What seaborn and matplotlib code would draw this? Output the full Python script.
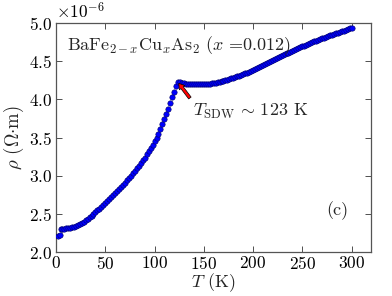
import numpy as np
import pandas as pd
import matplotlib
matplotlib.use("Agg")
import matplotlib.pyplot as plt
import seaborn as sns

# Temperature (K)
T_low = [2, 4]
rho_low = [2.22, 2.23]   # x1e-6 Ohm m

T_main = [5, 6, 8, 10, 12, 14, 16, 18, 20, 22, 24, 26, 28, 30, 32, 34, 36, 38, 40,
          42, 44, 46, 48, 50, 52, 54, 56, 58, 60, 62, 64, 66, 68, 70, 72, 74, 76, 78,
          80, 82, 84, 86, 88, 90, 92, 94, 96, 98, 100, 102, 104, 106, 108, 110, 112,
          114, 116, 118, 120, 122, 124, 126, 128, 130, 132, 134, 136, 138, 140, 142,
          144, 146, 148, 150, 152, 154, 156, 158, 160, 162, 164, 166, 168, 170, 172,
          174, 176, 178, 180, 182, 184, 186, 188, 190, 192, 194, 196, 198, 200, 202,
          204, 206, 208, 210, 212, 214, 216, 218, 220, 222, 224, 226, 228, 230, 232,
          234, 236, 238, 240, 242, 244, 246, 248, 250, 252, 254, 256, 258, 260, 262,
          264, 266, 268, 270, 272, 274, 276, 278, 280, 282, 284, 286, 288, 290, 292,
          294, 296, 298, 300]
rho_main = [2.308, 2.310, 2.313, 2.317, 2.321, 2.326, 2.332, 2.339, 2.347, 2.358, 2.371,
            2.386, 2.403, 2.421, 2.440, 2.460, 2.481, 2.503, 2.526, 2.549, 2.572, 2.597,
            2.621, 2.646, 2.671, 2.696, 2.721, 2.747, 2.773, 2.800, 2.828, 2.856, 2.885,
            2.914, 2.944, 2.974, 3.005, 3.036, 3.068, 3.100, 3.134, 3.170, 3.205, 3.240,
            3.280, 3.320, 3.365, 3.410, 3.455, 3.500, 3.550, 3.610, 3.675, 3.740, 3.810,
            3.880, 3.950, 4.030, 4.100, 4.170, 4.225, 4.225, 4.215, 4.210, 4.205, 4.200,
            4.198, 4.196, 4.195, 4.195, 4.195, 4.196, 4.197, 4.199, 4.201, 4.204, 4.207,
            4.211, 4.215, 4.220, 4.225, 4.231, 4.237, 4.244, 4.251, 4.258, 4.266, 4.274,
            4.282, 4.291, 4.300, 4.309, 4.319, 4.329, 4.339, 4.350, 4.361, 4.372, 4.383,
            4.395, 4.407, 4.419, 4.431, 4.444, 4.457, 4.470, 4.483, 4.496, 4.509, 4.522,
            4.535, 4.548, 4.561, 4.574, 4.587, 4.599, 4.611, 4.623, 4.635, 4.647, 4.659,
            4.670, 4.681, 4.692, 4.703, 4.714, 4.725, 4.736, 4.747, 4.757, 4.767, 4.777,
            4.787, 4.797, 4.807, 4.817, 4.827, 4.836, 4.845, 4.854, 4.863, 4.872, 4.881,
            4.890, 4.899, 4.908, 4.917, 4.926, 4.935]

x_ticks = [0, 50, 100, 150, 200, 250, 300]
y_ticks = [2.0, 2.5, 3.0, 3.5, 4.0, 4.5, 5.0]
T_sdw = 124
rho_sdw = 4.22

sns.set_style("ticks")
plt.rcParams["font.family"] = ["serif"]
plt.rcParams["font.serif"] = ["cmr10", "DejaVu Serif"]
plt.rcParams["mathtext.fontset"] = "cm"
plt.rcParams["axes.formatter.use_mathtext"] = True
plt.rcParams["axes.unicode_minus"] = False

df = pd.DataFrame({"T": T_low + T_main,
                   "rho": [v * 1e-6 for v in rho_low + rho_main]})

fig, ax = plt.subplots(figsize=(3.92, 2.96), dpi=100)
fig.subplots_adjust(left=0.143, right=0.947, top=0.923, bottom=0.147)

sns.scatterplot(data=df, x="T", y="rho", ax=ax, s=15, color="#0000ff",
                edgecolor="#000060", linewidth=0.4, zorder=3, legend=False)

ax.set_xlim(0, 320)
ax.set_ylim(2.0e-6, 5.0e-6)
ax.set_xticks(x_ticks)
ax.set_yticks([v * 1e-6 for v in y_ticks])
ax.tick_params(direction="in", top=True, right=True, length=4, width=0.6,
               labelsize=12.5, pad=3, colors="#333333", labelcolor="black")
ax.tick_params(axis="x", pad=2)
for s in ax.spines.values():
    s.set_color("#555555")
    s.set_linewidth(0.9)
ax.yaxis.get_offset_text().set_fontsize(12.5)

ax.set_xlabel(r"$T$ (K)", fontsize=13, labelpad=-1)
ax.set_ylabel(r"$\rho$ ($\Omega{\cdot}$m)", fontsize=13.5, labelpad=2)

ax.text(0.035, 0.95, r"BaFe$_{2-x}$Cu$_x$As$_2$ ($x$ =0.012)", transform=ax.transAxes,
        fontsize=13, va="top", ha="left")
ax.annotate(r"$T_{\mathrm{SDW}}\,\sim\,123$ K", xy=(T_sdw, rho_sdw * 1e-6),
            xytext=(139, 3.84e-6), fontsize=13, va="center", ha="left",
            arrowprops=dict(facecolor="red", edgecolor="black", width=2.2,
                            headwidth=5, headlength=4, shrink=0.04, linewidth=0.5))
ax.text(286, 2.55e-6, "(c)", fontsize=13, ha="center", va="center")

fig.savefig("out.png", dpi=100)
